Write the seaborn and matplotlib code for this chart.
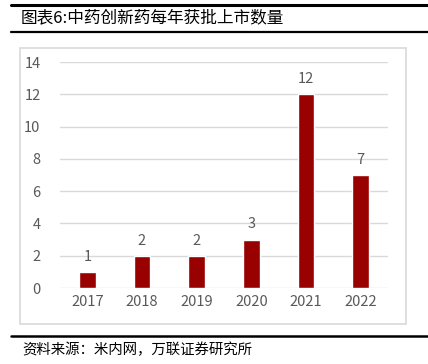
import matplotlib
matplotlib.use('Agg')
import matplotlib.pyplot as plt
import matplotlib.patches as patches
import matplotlib.lines as mlines
import seaborn as sns
import pandas as pd

# chart data
years = ['2017', '2018', '2019', '2020', '2021', '2022']
approvals = [1, 2, 2, 3, 12, 7]
y_ticks = [0, 2, 4, 6, 8, 10, 12, 14]

title_text = '图表6:中药创新药每年获批上市数量'
source_text = '资料来源：米内网，万联证券研究所'

sns.set_style('white')
plt.rcParams['font.family'] = ['Noto Sans CJK SC', 'DejaVu Sans']

df = pd.DataFrame({'year': years, 'count': approvals})

fig = plt.figure(figsize=(4.28, 3.64), dpi=100)
ax = fig.add_axes([60 / 428, 1 - 288 / 364, 328 / 428, 226 / 364])

sns.barplot(data=df, x='year', y='count', color='#990000', width=0.31,
            saturation=1, ax=ax, zorder=3)

ax.set_ylim(0, 14)
ax.set_xlim(-0.5, 5.5)
ax.set_yticks(y_ticks)
ax.grid(axis='y', color='#d9d9d9', linewidth=1, zorder=0)
ax.set_axisbelow(True)
for s in ax.spines.values():
    s.set_visible(False)
ax.tick_params(axis='both', length=0, labelsize=10.5, labelcolor='#595959')
ax.tick_params(axis='y', pad=14)
ax.tick_params(axis='x', pad=5)
ax.set_xlabel('')
ax.set_ylabel('')

# value labels
for i, v in enumerate(approvals):
    ax.text(i, v + 0.5, str(v), ha='center', va='bottom',
            fontsize=10.5, color='#595959')

# chart frame
fig.patches.append(patches.Rectangle((20 / 428, 1 - 324 / 364), 386 / 428, 276 / 364,
                                     transform=fig.transFigure, fill=False,
                                     edgecolor='#d9d9d9', linewidth=1.2))

# header and footer rules
fig.lines.append(mlines.Line2D([11 / 428, 1], [1 - 4.5 / 364] * 2,
                               transform=fig.transFigure, color='black', linewidth=2.2))
fig.lines.append(mlines.Line2D([11 / 428, 1], [1 - 31.5 / 364] * 2,
                               transform=fig.transFigure, color='black', linewidth=1.6))
fig.lines.append(mlines.Line2D([11 / 428, 1], [1 - 335.5 / 364] * 2,
                               transform=fig.transFigure, color='black', linewidth=1.8))

fig.text(21 / 428, 1 - 18 / 364, title_text, fontsize=12, va='center', ha='left',
         color='black', fontweight='light')
fig.text(22 / 428, 1 - 350 / 364, source_text, fontsize=10.4, va='center', ha='left',
         color='black', fontweight='light')

fig.savefig('out.png', dpi=100)
